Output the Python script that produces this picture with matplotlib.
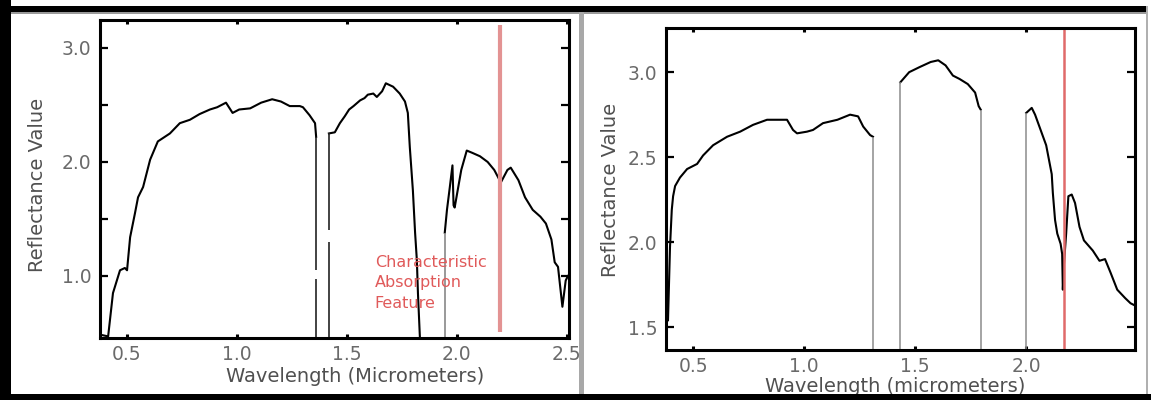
import numpy as np
import matplotlib
matplotlib.use("Agg")
import matplotlib.pyplot as plt
from matplotlib.patches import Rectangle

# -----------------------------
# Data
# -----------------------------

# left spectrum, three pieces
left_a_x = [0.39, 0.414, 0.436, 0.468, 0.49, 0.50, 0.514, 0.536, 0.55, 0.573,
            0.605, 0.64, 0.695, 0.74, 0.786, 0.83, 0.877, 0.91, 0.95, 0.98,
            1.01, 1.06, 1.11, 1.16, 1.20, 1.24, 1.286, 1.30, 1.33, 1.355, 1.36]
left_a_y = [0.48, 0.47, 0.85, 1.05, 1.07, 1.05, 1.34, 1.55, 1.69, 1.78,
            2.02, 2.18, 2.25, 2.34, 2.37, 2.42, 2.46, 2.48, 2.52, 2.43,
            2.46, 2.47, 2.52, 2.55, 2.53, 2.49, 2.49, 2.48, 2.41, 2.34, 2.22]

left_b_x = [1.418, 1.445, 1.468, 1.49, 1.51, 1.53, 1.56, 1.58, 1.595, 1.62,
            1.636, 1.66, 1.677, 1.71, 1.74, 1.764, 1.777, 1.786, 1.80, 1.81,
            1.818, 1.823, 1.832]
left_b_y = [2.25, 2.26, 2.34, 2.40, 2.46, 2.49, 2.54, 2.56, 2.59, 2.60,
            2.57, 2.62, 2.69, 2.66, 2.60, 2.53, 2.43, 2.13, 1.75, 1.38,
            1.14, 0.85, 0.456]

left_c_x = [1.945, 1.955, 1.968, 1.98, 1.985, 1.99, 2.02, 2.045, 2.07, 2.105,
            2.14, 2.17, 2.20, 2.23, 2.245, 2.28, 2.31, 2.345, 2.38, 2.405,
            2.43, 2.445, 2.46, 2.48, 2.495, 2.505]
left_c_y = [1.38, 1.58, 1.78, 1.97, 1.62, 1.60, 1.93, 2.10, 2.08, 2.05,
            2.00, 1.93, 1.82, 1.93, 1.95, 1.84, 1.69, 1.58, 1.52, 1.46,
            1.32, 1.12, 1.08, 0.73, 0.96, 1.00]

# vertical drops in left panel: x, y bottom, y top
left_drops_x = [1.36, 1.36, 1.418, 1.418, 1.945]
left_drops_y0 = [1.05, 0.456, 0.456, 1.40, 0.456]
left_drops_y1 = [2.22, 0.97, 1.30, 2.25, 1.38]

# right spectrum, three pieces
right_a_x = [0.387, 0.396, 0.404, 0.41, 0.419, 0.441, 0.473, 0.518, 0.545, 0.59,
             0.653, 0.712, 0.77, 0.833, 0.86, 0.923, 0.95, 0.968, 1.013, 1.04,
             1.085, 1.15, 1.207, 1.243, 1.266, 1.297, 1.31]
right_a_y = [1.54, 1.97, 2.19, 2.27, 2.33, 2.38, 2.43, 2.46, 2.51, 2.57,
             2.62, 2.65, 2.69, 2.72, 2.72, 2.72, 2.66, 2.64, 2.65, 2.66,
             2.70, 2.72, 2.75, 2.74, 2.68, 2.63, 2.62]

right_b_x = [1.433, 1.473, 1.52, 1.57, 1.604, 1.637, 1.67, 1.70, 1.737, 1.77,
             1.786, 1.795]
right_b_y = [2.94, 3.00, 3.03, 3.06, 3.07, 3.04, 2.98, 2.96, 2.93, 2.88,
             2.80, 2.78]

right_c_x = [2.0, 2.025, 2.04, 2.065, 2.09, 2.115, 2.12, 2.13, 2.14, 2.155,
             2.162, 2.165, 2.17, 2.18, 2.19, 2.205, 2.22, 2.24, 2.26, 2.30,
             2.33, 2.355, 2.38, 2.41, 2.446, 2.47, 2.485]
right_c_y = [2.76, 2.79, 2.75, 2.66, 2.57, 2.40, 2.29, 2.13, 2.05, 1.99,
             1.93, 1.72, 1.87, 2.05, 2.27, 2.28, 2.23, 2.09, 2.01, 1.95,
             1.89, 1.90, 1.82, 1.72, 1.67, 1.64, 1.63]

right_drops_x = [1.31, 1.433, 1.795, 2.0]
right_drops_y1 = [2.62, 2.94, 2.78, 2.76]

# absorption feature markers
left_feature_x = 2.195
right_feature_x = 2.17

left_xticks = [0.5, 1.0, 1.5, 2.0, 2.5]
left_yticks = [1.0, 2.0, 3.0]
left_yminor = [1.5, 2.5]
right_xticks = [0.5, 1.0, 1.5, 2.0]
right_yticks = [1.5, 2.0, 2.5, 3.0]

W, H = 1151, 400


def box(x0, y0, x1, y1):
    # pixel box (top based) -> figure fraction rect
    return (x0 / W, 1 - y1 / H), (x1 - x0) / W, (y1 - y0) / H


# -----------------------------
# Figure
# -----------------------------
plt.rcParams['font.family'] = ['DejaVu Sans']

fig = plt.figure(figsize=(W / 100, H / 100), dpi=100)
fig.patch.set_facecolor('white')

ax1 = fig.add_axes([100 / W, 1 - 338 / H, 469 / W, 318 / H])
ax2 = fig.add_axes([666 / W, 1 - 350 / H, 469 / W, 322 / H])

tick_col = '#6a6a6a'
label_col = '#505050'

for ax in (ax1, ax2):
    for s in ax.spines.values():
        s.set_linewidth(2.2)
        s.set_color('black')
    ax.tick_params(axis='both', which='both', direction='in',
                   top=True, right=True, colors='black',
                   labelcolor=tick_col, labelsize=13.5)
    ax.tick_params(axis='y', which='both', length=6, width=1.6, pad=6)
    ax.tick_params(axis='x', which='both', length=3, width=2.2, pad=5)

# -----------------------------
# Left panel
# -----------------------------
ax1.plot(left_a_x, left_a_y, color='black', lw=1.5)
ax1.plot(left_b_x, left_b_y, color='black', lw=1.5)
ax1.plot(left_c_x, left_c_y, color='black', lw=1.5)
ax1.vlines(left_drops_x[:4], left_drops_y0[:4], left_drops_y1[:4],
           color='#222222', lw=1.2)
ax1.vlines(left_drops_x[4:], left_drops_y0[4:], left_drops_y1[4:],
           color='#888888', lw=1.2)

ax1.vlines(left_feature_x, 0.51, 3.2, color='#e39393', lw=3)
ax1.text(1.627, 0.94, "Characteristic\nAbsorption\nFeature",
         color='#e05a5a', fontsize=11.5, va='center', ha='left',
         linespacing=1.45)

ax1.set_xlim(0.377, 2.51)
ax1.set_ylim(0.456, 3.245)
ax1.set_xticks(left_xticks)
ax1.set_yticks(left_yticks)
ax1.set_yticks(left_yminor, minor=True)
ax1.set_yticklabels(['1.0', '2.0', '3.0'])

ax1.set_xlabel("Wavelength (Micrometers)", fontsize=14, color=label_col)
ax1.set_ylabel("Reflectance Value", fontsize=14, color=label_col)
ax1.xaxis.set_label_coords(0.544, -0.092)
ax1.yaxis.set_label_coords(-0.113, 0.48)

# -----------------------------
# Right panel
# -----------------------------
ax2.plot(right_a_x, right_a_y, color='black', lw=1.5)
ax2.plot(right_b_x, right_b_y, color='black', lw=1.5)
ax2.plot(right_c_x, right_c_y, color='black', lw=1.5)
ax2.vlines(right_drops_x, 1.365, right_drops_y1, color='#8c8c8c', lw=1.1)

ax2.axvline(right_feature_x, color='#e06a6a', lw=1.8)

ax2.set_xlim(0.378, 2.49)
ax2.set_ylim(1.365, 3.26)
ax2.set_xticks(right_xticks)
ax2.set_yticks(right_yticks)

ax2.set_xlabel("Wavelength (micrometers)", fontsize=14, color=label_col)
ax2.set_ylabel("Reflectance Value", fontsize=14, color=label_col)
ax2.xaxis.set_label_coords(0.488, -0.084)
ax2.yaxis.set_label_coords(-0.098, 0.497)

# -----------------------------
# Screenshot frame
# -----------------------------
frame = [
    ((0, 6, W - 4, 12), 'black'),      # top band
    ((0, 12, W - 4, 14), '#9a9a9a'),
    ((0, 0, 11, H), 'black'),          # left band
    ((0, 394, W, H), 'black'),         # bottom band
    ((579, 12, 584, 394), '#a8a8a8'),  # divider
    ((1146, 6, 1148, 394), '#b0b0b0'),  # right edge
]
for (x0, y0, x1, y1), c in frame:
    xy, w, h = box(x0, y0, x1, y1)
    fig.add_artist(Rectangle(xy, w, h, transform=fig.transFigure,
                             color=c, lw=0, zorder=10))

fig.savefig("out.png", dpi=100)
